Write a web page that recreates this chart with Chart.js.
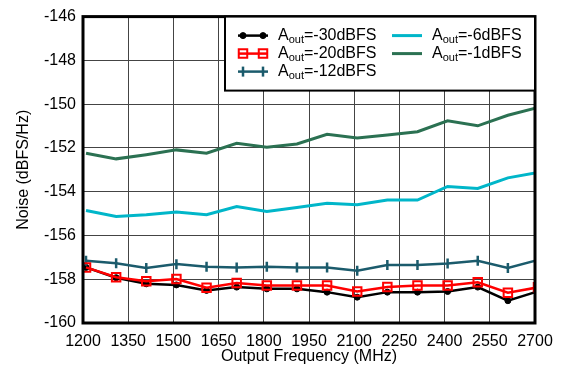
<!DOCTYPE html>
<html>
<head>
<meta charset="utf-8">
<title>Noise vs Output Frequency</title>
<script src="https://cdn.jsdelivr.net/npm/chart.js@4/dist/chart.umd.min.js"></script>
<style>
    html, body { margin: 0; padding: 0; background: #fff; }
    #wrap { width: 563px; height: 366px; }
</style>
</head>
<body>
<div id="wrap"><canvas id="noiseChart" width="563" height="366"></canvas></div>
<script>
// output frequency (MHz) of each measured point
var freqs = [1210, 1310, 1410, 1510, 1610, 1710, 1810, 1910, 2010, 2110, 2210, 2310, 2410, 2510, 2610, 2710];

// noise (dBFS/Hz) per output level
var noise30 = [-157.46, -157.93, -158.21, -158.26, -158.51, -158.36, -158.44, -158.44, -158.59, -158.82, -158.59, -158.59, -158.56, -158.36, -158.98, -158.55];
var noise20 = [-157.46, -157.91, -158.09, -157.99, -158.39, -158.17, -158.29, -158.29, -158.29, -158.56, -158.36, -158.29, -158.29, -158.14, -158.62, -158.37];
var noise12 = [-157.16, -157.27, -157.49, -157.31, -157.43, -157.46, -157.43, -157.46, -157.46, -157.61, -157.35, -157.35, -157.28, -157.16, -157.49, -157.12];
var noise6  = [-154.86, -155.13, -155.05, -154.93, -155.05, -154.68, -154.90, -154.72, -154.53, -154.60, -154.38, -154.38, -153.76, -153.85, -153.37, -153.12];
var noise1  = [-152.24, -152.50, -152.31, -152.09, -152.24, -151.79, -151.97, -151.82, -151.38, -151.55, -151.41, -151.26, -150.76, -150.99, -150.51, -150.15];

var levels = ['-30', '-20', '-12', '-6', '-1'];
var xTicks = [1200, 1350, 1500, 1650, 1800, 1950, 2100, 2250, 2400, 2550, 2700];
var yTicks = [-160, -158, -156, -154, -152, -150, -148, -146];

var FONT = "'Liberation Sans', Arial, sans-serif";

function pts(ys) {
    return ys.map(function (y, i) { return { x: freqs[i], y: y }; });
}

// draw one marker the same way the chart does it
function marker(ctx, ds, x, y) {
    if (!ds.pointRadius) return;
    Chart.helpers.drawPoint(ctx, {
        pointStyle: ds.pointStyle,
        rotation: ds.pointRotation || 0,
        radius: ds.pointRadius,
        borderWidth: ds.pointBorderWidth
    }, x, y);
}

var frameAndLegend = {
    id: 'frameAndLegend',
    afterDraw: function (chart) {
        var ctx = chart.ctx;
        var a = chart.chartArea;
        ctx.save();
        // heavy frame round the plot
        ctx.strokeStyle = '#000';
        ctx.lineWidth = 3;
        ctx.strokeRect(a.left, a.top, a.right - a.left, a.bottom - a.top);

        // legend box in the upper right corner
        var bx = 225, by = a.top, bw = a.right - bx, bh = 74;
        ctx.fillStyle = '#fff';
        ctx.fillRect(bx, by, bw, bh);
        ctx.lineWidth = 2;
        ctx.strokeRect(bx, by, bw, bh);

        var cols = [238, 392];
        var rows = [by + 19, by + 37, by + 55];
        var slots = [[0, 0], [0, 1], [0, 2], [1, 0], [1, 1]];
        chart.data.datasets.forEach(function (ds, i) {
            var sx = cols[slots[i][0]], sy = rows[slots[i][1]];
            ctx.strokeStyle = ds.borderColor;
            ctx.lineWidth = ds.borderWidth;
            ctx.beginPath();
            ctx.moveTo(sx, sy);
            ctx.lineTo(sx + 30, sy);
            ctx.stroke();
            ctx.fillStyle = ds.pointBackgroundColor || ds.borderColor;
            ctx.strokeStyle = ds.pointBorderColor || ds.borderColor;
            ctx.lineWidth = ds.pointBorderWidth || 1;
            marker(ctx, ds, sx + 5, sy);
            marker(ctx, ds, sx + 25, sy);

            // label: A with subscript "out", then the level
            var tx = sx + 40;
            ctx.fillStyle = '#000';
            ctx.textBaseline = 'middle';
            ctx.textAlign = 'left';
            ctx.font = '16px ' + FONT;
            ctx.fillText('A', tx, sy);
            tx += ctx.measureText('A').width;
            ctx.font = '11px ' + FONT;
            ctx.fillText('out', tx, sy + 4);
            tx += ctx.measureText('out').width;
            ctx.font = '16px ' + FONT;
            ctx.fillText('=' + ds.level + 'dBFS', tx, sy);
        });
        ctx.restore();
    }
};

var ctx = document.getElementById('noiseChart').getContext('2d');
new Chart(ctx, {
    type: 'line',
    data: {
        datasets: [{
            label: 'Aout=-30dBFS', level: levels[0],
            data: pts(noise30),
            borderColor: '#000000', borderWidth: 2.5,
            pointStyle: 'circle', pointRadius: 3,
            pointBackgroundColor: '#000000', pointBorderColor: '#000000', pointBorderWidth: 1,
            order: 5
        }, {
            label: 'Aout=-20dBFS', level: levels[1],
            data: pts(noise20),
            borderColor: '#ff0000', borderWidth: 2.5,
            pointStyle: 'rect', pointRadius: 6,
            pointBackgroundColor: 'rgba(0,0,0,0)', pointBorderColor: '#ff0000', pointBorderWidth: 2,
            order: 1
        }, {
            label: 'Aout=-12dBFS', level: levels[2],
            data: pts(noise12),
            borderColor: '#1b5b6c', borderWidth: 2.5,
            pointStyle: 'line', pointRotation: 90, pointRadius: 5,
            pointBackgroundColor: '#1b5b6c', pointBorderColor: '#1b5b6c', pointBorderWidth: 2.5,
            order: 3
        }, {
            label: 'Aout=-6dBFS', level: levels[3],
            data: pts(noise6),
            borderColor: '#00b6c9', borderWidth: 3,
            pointRadius: 0,
            order: 2
        }, {
            label: 'Aout=-1dBFS', level: levels[4],
            data: pts(noise1),
            borderColor: '#2b7152', borderWidth: 3,
            pointRadius: 0,
            order: 2
        }]
    },
    options: {
        responsive: false,
        animation: false,
        clip: 0,
        layout: { padding: { top: 13, right: 28, left: 0, bottom: 0 } },
        plugins: {
            legend: { display: false },
            tooltip: { enabled: false }
        },
        elements: { line: { tension: 0 } },
        scales: {
            x: {
                type: 'linear',
                min: 1200, max: 2700,
                afterFit: function (s) { s.height = 43; },
                afterBuildTicks: function (s) { s.ticks = xTicks.map(function (v) { return { value: v }; }); },
                grid: { color: '#444', lineWidth: 1, drawTicks: false },
                border: { display: false },
                ticks: {
                    color: '#000', padding: 9, font: { size: 16, family: FONT }, maxRotation: 0,
                    callback: function (v) { return String(v); }
                },
                title: {
                    display: true, text: 'Output Frequency (MHz)', color: '#000',
                    font: { size: 16, family: FONT }, padding: { top: 0, bottom: 0 }
                }
            },
            y: {
                min: -160, max: -146,
                afterFit: function (s) { s.width = 83; },
                afterBuildTicks: function (s) { s.ticks = yTicks.map(function (v) { return { value: v }; }); },
                grid: { color: '#444', lineWidth: 1, drawTicks: false },
                border: { display: false },
                ticks: {
                    color: '#000', padding: 7, font: { size: 16, family: FONT },
                    callback: function (v) { return String(v); }
                },
                title: {
                    display: true, text: 'Noise (dBFS/Hz)', color: '#000',
                    font: { size: 16, family: FONT }, padding: { top: 14, bottom: 0 }
                }
            }
        }
    },
    plugins: [frameAndLegend]
});
</script>
</body>
</html>
